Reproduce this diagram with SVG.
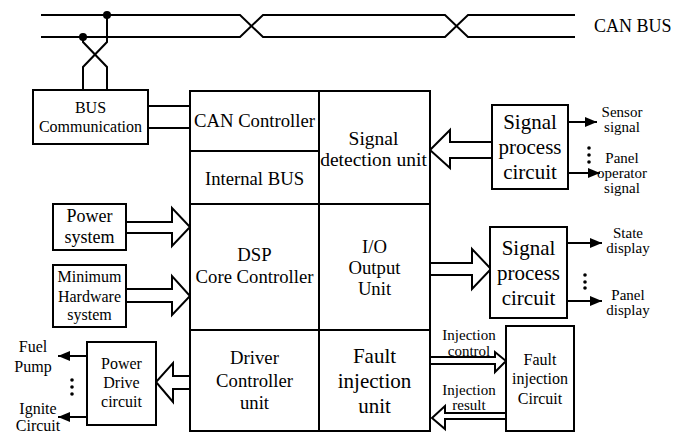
<svg xmlns="http://www.w3.org/2000/svg" width="676" height="433" viewBox="0 0 676 433" font-family="'Liberation Serif', 'Times New Roman', 'DejaVu Serif', serif">
<defs>
<marker id="ah" viewBox="0 0 12 10" refX="12" refY="5" markerWidth="12" markerHeight="10" markerUnits="userSpaceOnUse" orient="auto">
<path d="M0,0 L12,5 L0,10 z" fill="#000"/>
</marker>
<style>
.box{fill:#fff;stroke:#000;stroke-width:2}
.ln{fill:none;stroke:#000;stroke-width:2}
.hol{fill:#fff;stroke:#000;stroke-width:2;stroke-linejoin:miter}
text{font-family:'Liberation Serif','Times New Roman','DejaVu Serif',serif;fill:#000;text-anchor:middle}
.m{font-size:18.7px}
.b{font-size:21px}
.s{font-size:16px}
.t{font-size:15px}
</style>
</defs>
<rect width="676" height="433" fill="#fff"/>

<g id="canbus">
<path class="ln" d="M41,15 H240 L263,37 H445 L468,15 H575"/>
<path class="ln" d="M41,37 H240 L263,15 H445 L468,37 H575"/>
<circle cx="107" cy="15" r="4"/>
<circle cx="83" cy="37" r="4"/>
<text x="594" y="32" style="font-size:18px;text-anchor:start">CAN BUS</text>
</g>

<g id="connectors">
<path class="ln" d="M107,15 V42 L83,67 V90"/>
<path class="ln" d="M83,37 V42 L107,67 V90"/>
<path class="ln" d="M148,106 H190 M148,128 H190"/>
<polygon class="hol" points="492,142 450,142 450,130 430,150 450,168 450,158 492,158"/>
<line class="ln" x1="568" y1="122" x2="597" y2="122" marker-end="url(#ah)"/>
<line class="ln" x1="568" y1="173" x2="600" y2="173" marker-end="url(#ah)"/>
<polygon class="hol" points="126,222 172,222 172,208 190,227 172,246 172,233 126,233"/>
<polygon class="hol" points="126,289 172,289 172,276 190,296 172,315 172,302 126,302"/>
<polygon class="hol" points="430,263 472,263 472,249 491,269 472,289 472,275 430,275"/>
<line class="ln" x1="567" y1="243" x2="602" y2="243" marker-end="url(#ah)"/>
<line class="ln" x1="567" y1="301" x2="602" y2="301" marker-end="url(#ah)"/>
<polygon class="hol" points="190,376 173,376 173,363 156,382 173,402 173,389 190,389"/>
<line class="ln" x1="87" y1="356" x2="58" y2="356" marker-end="url(#ah)"/>
<line class="ln" x1="87" y1="417" x2="58" y2="417" marker-end="url(#ah)"/>
<polygon class="hol" points="430,357 495,357 495,352 506,361 495,372 495,364 430,364"/>
<polygon class="hol" points="506,413 445,413 445,406 432,418 445,429 445,419 506,419"/>
<g fill="#000">
<circle cx="589" cy="148" r="1.8"/><circle cx="589" cy="155" r="1.8"/><circle cx="589" cy="162" r="1.8"/>
<circle cx="585" cy="275" r="1.8"/><circle cx="585" cy="282" r="1.8"/><circle cx="585" cy="288" r="1.8"/>
<circle cx="72" cy="380" r="1.8"/><circle cx="72" cy="387" r="1.8"/><circle cx="72" cy="394" r="1.8"/>
</g>
<text class="t" x="469" y="340">Injection</text>
<text class="t" x="469" y="355.5">control</text>
<text class="t" x="469" y="395">Injection</text>
<text class="t" x="469" y="409.5">result</text>
</g>

<g id="bus-communication">
<rect class="box" x="33" y="90" width="115" height="54"/>
<text class="s" x="90.5" y="113">BUS</text>
<text class="s" x="90.5" y="132">Communication</text>
</g>

<g id="can-controller">
<rect class="box" x="190" y="91" width="129" height="60"/>
<text class="m" x="254.5" y="127">CAN Controller</text>
</g>
<g id="internal-bus">
<rect class="box" x="190" y="151" width="129" height="53"/>
<text class="m" x="254.5" y="185">Internal BUS</text>
</g>
<g id="signal-detection">
<rect class="box" x="319" y="91" width="111" height="113"/>
<text x="373.5" y="145" style="font-size:19.5px">Signal</text>
<text x="373.5" y="166" style="font-size:19.5px">detection unit</text>
</g>
<g id="dsp-core">
<rect class="box" x="190" y="204" width="129" height="126"/>
<text class="m" x="254.5" y="261">DSP</text>
<text class="m" x="254.5" y="283">Core Controller</text>
</g>
<g id="io-output">
<rect class="box" x="319" y="204" width="111" height="126"/>
<text class="m" x="374.5" y="253">I/O</text>
<text class="m" x="374.5" y="274">Output</text>
<text class="m" x="374.5" y="295">Unit</text>
</g>
<g id="driver-controller">
<rect class="box" x="190" y="330" width="129" height="101"/>
<text class="m" x="254.5" y="364">Driver</text>
<text class="m" x="254.5" y="387">Controller</text>
<text class="m" x="254.5" y="409">unit</text>
</g>
<g id="fault-injection-unit">
<rect class="box" x="319" y="330" width="111" height="101"/>
<text class="b" x="374.5" y="362.5">Fault</text>
<text class="b" x="374.5" y="388">injection</text>
<text class="b" x="374.5" y="412.5">unit</text>
</g>

<g id="signal-process-1">
<rect class="box" x="492" y="105" width="76" height="84"/>
<text class="b" x="530" y="129">Signal</text>
<text class="b" x="530" y="154">process</text>
<text class="b" x="530" y="179">circuit</text>
</g>
<g id="sensor-label">
<text class="t" x="622" y="117">Sensor</text>
<text class="t" x="622" y="132">signal</text>
</g>
<g id="panel-operator-label">
<text class="t" x="622" y="163">Panel</text>
<text class="t" x="622" y="178">operator</text>
<text class="t" x="622" y="192.5">signal</text>
</g>

<g id="power-system">
<rect class="box" x="53" y="204" width="73" height="46"/>
<text x="89.5" y="222" style="font-size:18px">Power</text>
<text x="89.5" y="243" style="font-size:18px">system</text>
</g>
<g id="minimum-hardware">
<rect class="box" x="53" y="265" width="73" height="62"/>
<text class="s" x="89.5" y="281.5">Minimum</text>
<text class="s" x="89.5" y="301.5">Hardware</text>
<text class="s" x="89.5" y="320">system</text>
</g>

<g id="signal-process-2">
<rect class="box" x="490" y="227" width="77" height="91"/>
<text class="b" x="528.5" y="255">Signal</text>
<text class="b" x="528.5" y="280">process</text>
<text class="b" x="528.5" y="305">circuit</text>
</g>
<g id="state-display-label">
<text class="t" x="628" y="238">State</text>
<text class="t" x="628" y="253">display</text>
</g>
<g id="panel-display-label">
<text class="t" x="628" y="300">Panel</text>
<text class="t" x="628" y="315">display</text>
</g>

<g id="power-drive">
<rect class="box" x="87" y="342" width="69" height="83"/>
<text class="s" x="121.5" y="369">Power</text>
<text class="s" x="121.5" y="388">Drive</text>
<text class="s" x="121.5" y="406.5">circuit</text>
</g>
<g id="fuel-pump-label">
<text class="s" x="33" y="352">Fuel</text>
<text class="s" x="33" y="371.5">Pump</text>
</g>
<g id="ignite-label">
<text class="s" x="38" y="414">Ignite</text>
<text class="s" x="38" y="431">Circuit</text>
</g>

<g id="fault-injection-circuit">
<rect class="box" x="506" y="326" width="68" height="105"/>
<text class="s" x="540" y="365">Fault</text>
<text class="s" x="540" y="384">injection</text>
<text class="s" x="540" y="404">Circuit</text>
</g>
</svg>
